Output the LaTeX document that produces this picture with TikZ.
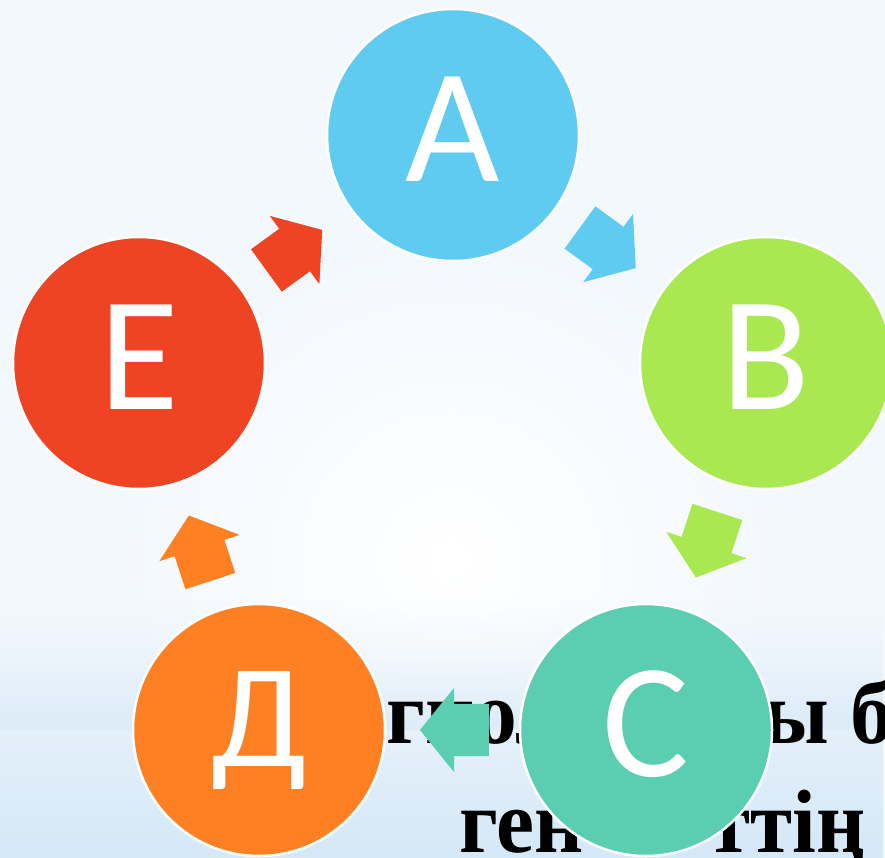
\documentclass[tikz,border=0pt]{standalone}
\usepackage{fontspec}
\usepackage{graphicx}
\usetikzlibrary{shapes.arrows,fadings}
\newfontfamily\circfont{Carlito}
\newfontfamily\bodyfont{Liberation Serif}

\definecolor{bgbase}{HTML}{F3F8FD}
\definecolor{bgblue}{HTML}{D5E8F7}
\definecolor{cA}{HTML}{5FCBF1}
\definecolor{cB}{HTML}{A9E851}
\definecolor{cC}{HTML}{5BCDB0}
\definecolor{cD}{HTML}{FF8022}
\definecolor{cE}{HTML}{EE4423}

\tikzset{
  stage/.style={circle, minimum size=252pt, inner sep=0pt, draw=white,
    line width=2.5pt, text=white,
    font=\circfont\fontsize{163}{163}\selectfont,
    text height=105pt, text depth=12pt},
  flow/.style={single arrow, draw=none, inner xsep=0pt, inner ysep=26pt,
    minimum height=69pt,
    single arrow head extend=16pt, single arrow tip angle=102,
    single arrow head indent=0pt,
    pos=0.405, sloped, allow upside down},
  bodytxt/.style={inner sep=0pt, text=black, text depth=0pt,
    font=\bodyfont\bfseries\fontsize{90}{90}\selectfont},
}

\begin{document}
\begin{tikzpicture}[x=1pt, y=-1pt]
  \useasboundingbox (0,0) rectangle (885,858);
  \clip (0,0) rectangle (885,858);

  % background: pale blue with a soft white glow and a bluish lower band
  \fill[bgbase] (0,0) rectangle (885,858);
  \shade[inner color=white, outer color=bgbase] (450,560) circle (330);
  \fill[bgblue, path fading=north] (0,600) rectangle (885,858);
  \fill[bgblue, opacity=0.5, path fading=north] (0,660) rectangle (885,730);

  % caption lines lying behind the cycle
  \node[bodytxt, anchor=base west] (capa) at (386,743) {\scalebox{0.95}[1]{гиол}};
  \node[bodytxt, anchor=base west] (capb) at (762,743) {\scalebox{0.95}[1]{ы б}};
  \node[bodytxt, anchor=base west] (capc) at (459,852) {\scalebox{0.95}[1]{ген}};
  \node[bodytxt, anchor=base east] (capd) at (866,852) {\scalebox{0.95}[1]{ттің}};

  % the five stages
  \node[stage, fill=cA] (A) at (453,135) {A};
  \node[stage, fill=cB] (B) at (766,363) {B};
  \node[stage, fill=cC] (C) at (646,730) {C};
  \node[stage, fill=cD, font=\circfont\fontsize{148}{148}\selectfont,
        text height=93pt, text depth=21pt] (D) at (259,730) {Д};
  \node[stage, fill=cE] (E) at (139,363) {E};

  % block arrows around the cycle
  \path (A) -- (B) node[flow, fill=cA] (ab) {};
  \path (B) -- (C) node[flow, fill=cB] (bc) {};
  \path (C) -- (D) node[flow, fill=cC] (cd) {};
  \path (D) -- (E) node[flow, fill=cD] (de) {};
  \path (E) -- (A) node[flow, fill=cE] (ea) {};
\end{tikzpicture}
\end{document}
